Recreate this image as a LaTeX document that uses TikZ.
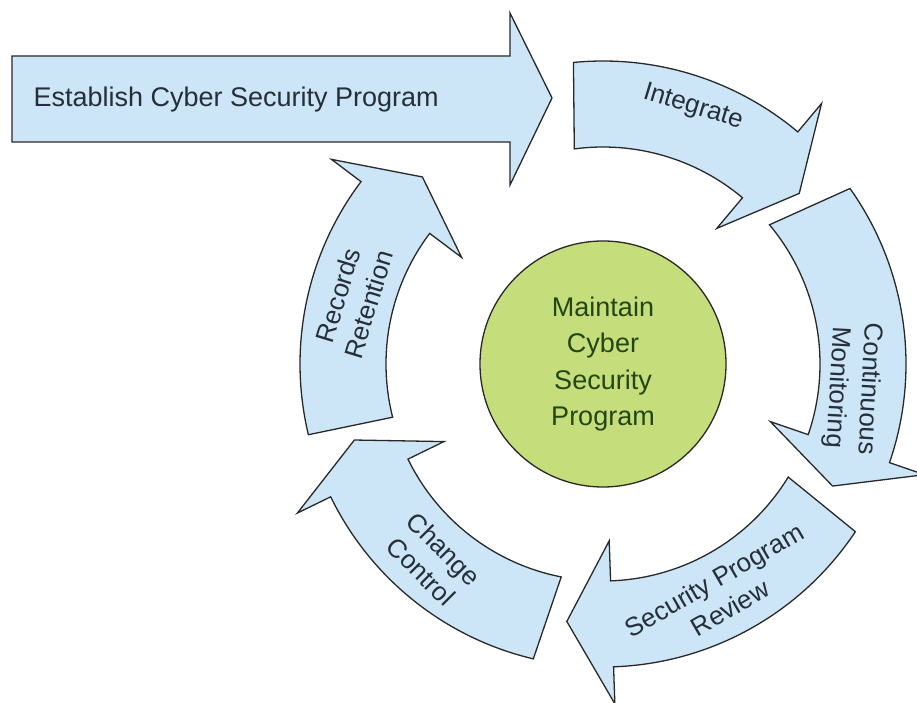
\documentclass[tikz,border=0pt]{standalone}
\usepackage{fontspec}
\setmainfont{Liberation Sans}
\usepackage{tikz}

\definecolor{arrowblue}{RGB}{204,230,248}
\definecolor{discgreen}{RGB}{198,221,124}
\definecolor{labelgreen}{RGB}{36,70,20}
\definecolor{labelgray}{RGB}{38,46,58}
\definecolor{rimgray}{RGB}{40,40,40}

\tikzset{
    blockarrow/.style={draw=rimgray, line width=1.3pt, fill=arrowblue, line join=miter},
    arclabel/.style={text=labelgray, align=center, font=\fontsize{26}{32}\selectfont},
}

% ring arrow: outer tail angle, inner tail angle, head base angle, tip angle
\newcommand{\ringarrow}[4]{%
    \draw [blockarrow] ([shift={(#1:303)}]c) arc [start angle=#1, end angle=#3, radius=303]
        -- ([shift={(#3:340)}]c) -- ([shift={(#4:260)}]c) -- ([shift={(#3:177)}]c)
        -- ([shift={(#3:217)}]c) arc [start angle=#3, end angle=#2, radius=217] -- cycle;}

\begin{document}
\begin{tikzpicture}[x=1pt,y=1pt]

            %\draw [help lines, step=50] (0,0) grid (917,703);
            \useasboundingbox (0,0) rectangle (917,703);
            \coordinate (c) at (603,339);

            % straight arrow on top
            \draw [blockarrow] (12,647) -- (510,647) -- (510,690) -- (552,605)
                -- (510,518) -- (510,561) -- (12,561) -- cycle;

            % the cycle
            \ringarrow{95.6}{97.6}{50}{41}
            \ringarrow{35.4}{39.9}{-19}{-28}
            \ringarrow{-33.6}{-31.4}{-88}{-98}
            \ringarrow{-103.3}{-101.1}{-154}{-163}
            \ringarrow{193.5}{194.2}{143}{134}

            \path   (30,596) node (est) [anchor=base west, text=labelgray, font=\fontsize{27}{32}\selectfont] {Establish Cyber Security Program}
                    (c) node (m) [circle, draw=rimgray, line width=1.3pt, fill=discgreen, minimum size=246, inner sep=0pt,
                        align=center, text=labelgreen, font=\fontsize{27}{36.5}\selectfont] {Maintain\\Cyber\\Security\\Program}
                    ([shift={(70.7:272)}]c) node (ig) [arclabel, rotate=-17] {Integrate}
                    ([shift={(-5.5:251)}]c) node (cm) [arclabel, rotate=-93] {Continuous\\Monitoring}
                    ([shift={(-62.6:259)}]c) node (sr) [arclabel, rotate=30] {Security Program\\Review}
                    ([shift={(-131:260)}]c) node (cc) [arclabel, rotate=-45] {Change\\Control}
                    ([shift={(165.6:258)}]c) node (rr) [arclabel, rotate=73] {Records\\Retention};

        \end{tikzpicture}
\end{document}
